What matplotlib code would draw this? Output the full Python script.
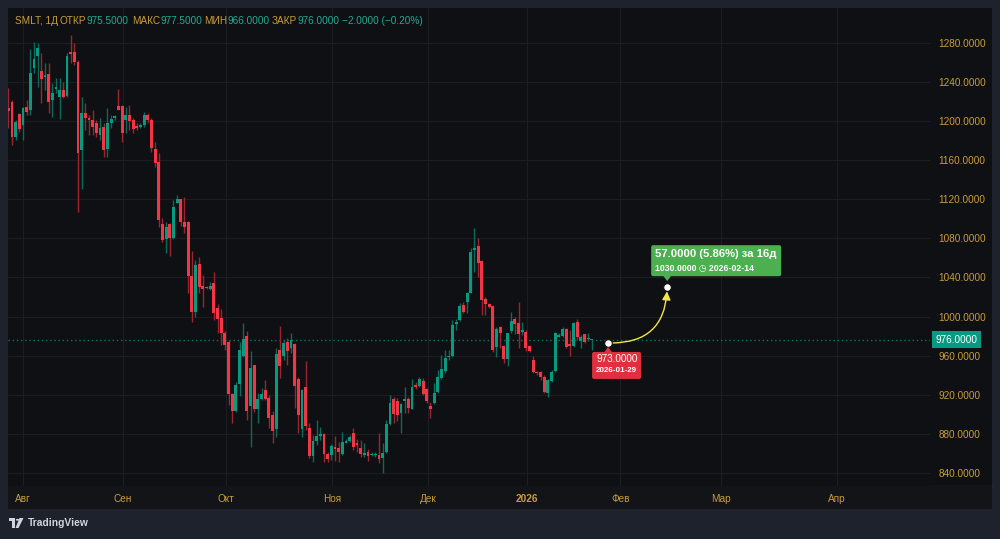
import matplotlib
matplotlib.use('Agg')
import matplotlib.pyplot as plt
from matplotlib.patches import Rectangle, FancyBboxPatch, Polygon, FancyArrowPatch, Circle
from matplotlib.transforms import IdentityTransform
import numpy as np

plt.rcParams['font.family'] = ['Liberation Sans', 'DejaVu Sans']

# daily candles, SMLT (Aug 2025 -> Jan 2026)
opens = [1212.9, 1219.7, 1183.9, 1206.8, 1195.8, 1213.9, 1211.2, 1253.8, 1266.7, 1251.1,
         1244.6, 1247.6, 1221.4, 1232.7, 1224.1, 1231.6, 1225.5, 1270.1, 1270.1, 1260.6,
         1170.3, 1207.8, 1203.3, 1201.0, 1198.2, 1185.6, 1194.1, 1171.0, 1197.6, 1202.7,
         1215.3, 1215.3, 1201.0, 1206.1, 1201.0, 1194.8, 1193.5, 1195.5, 1205.7, 1201.0,
         1171.0, 1158.4, 1094.6, 1078.9, 1094.6, 1080.0, 1116.4, 1120.2, 1097.0, 1096.3,
         1041.5, 1005.0, 1053.7, 1031.2, 1030.6, 1027.8, 1034.0, 1008.4, 998.2, 983.5,
         974.3, 920.8, 903.8, 931.0, 959.7, 980.1, 908.5, 950.5, 905.2, 915.4,
         924.9, 917.1, 899.3, 884.7, 965.8, 959.7, 974.3, 967.5, 971.6, 935.8,
         884.7, 927.6, 885.7, 857.4, 873.1, 878.2, 879.9, 859.5, 858.1, 866.9,
         865.9, 859.5, 871.0, 872.7, 880.6, 870.4, 865.6, 858.1, 861.8, 858.4,
         858.4, 858.1, 855.7, 861.8, 890.1, 915.3, 914.0, 901.0, 914.0, 915.3,
         905.8, 930.3, 929.0, 934.1, 925.6, 908.2, 911.9, 923.2, 936.8, 944.3,
         958.3, 959.7, 992.4, 996.5, 1011.8, 1015.2, 1024.4, 1068.0, 1072.1, 1056.8,
         1017.9, 1012.8, 1010.8, 969.2, 989.0, 969.9, 956.2, 985.6, 997.2, 993.7,
         983.8, 984.5, 969.9, 955.6, 943.6, 943.6, 938.5, 922.2, 934.4, 944.3,
         979.4, 980.1, 986.9, 971.9, 969.9, 994.1, 975.3, 981.8, 976.7, 975.5]
highs = [1233.3, 1221.4, 1201.0, 1207.8, 1214.6, 1221.4, 1273.2, 1281.0, 1279.3, 1269.1,
         1258.9, 1258.9, 1238.4, 1243.6, 1243.6, 1240.2, 1269.1, 1287.9, 1280.0, 1262.3,
         1224.8, 1218.0, 1206.1, 1211.2, 1201.0, 1202.7, 1197.6, 1212.9, 1206.1, 1206.1,
         1232.3, 1216.3, 1214.6, 1216.3, 1202.7, 1197.6, 1197.6, 1209.5, 1208.5, 1202.7,
         1178.8, 1166.9, 1100.4, 1097.0, 1095.3, 1119.2, 1124.3, 1120.2, 1122.6, 1098.0,
         1067.4, 1057.8, 1060.5, 1042.5, 1031.6, 1035.7, 1045.9, 1012.8, 1007.4, 985.6,
         976.0, 921.5, 933.4, 974.3, 993.7, 985.2, 965.1, 950.5, 921.5, 926.6,
         935.1, 919.8, 903.8, 968.2, 990.3, 976.0, 977.7, 982.8, 973.3, 938.5,
         925.6, 954.6, 890.8, 878.9, 894.2, 887.4, 880.6, 861.8, 869.7, 877.9,
         872.1, 882.3, 874.4, 878.9, 885.7, 874.4, 873.8, 870.4, 864.2, 861.8,
         861.8, 881.3, 870.4, 894.2, 919.8, 918.1, 916.4, 911.9, 928.3, 918.1,
         935.8, 933.4, 937.8, 937.5, 926.6, 912.9, 931.7, 945.3, 960.7, 965.8,
         965.8, 996.5, 997.1, 1013.5, 1015.2, 1025.4, 1069.7, 1090.2, 1080.0, 1057.8,
         1019.6, 1013.5, 1010.8, 989.0, 990.3, 970.9, 983.5, 1005.0, 999.9, 1015.2,
         994.8, 986.2, 970.9, 959.7, 944.3, 944.7, 940.2, 935.8, 945.3, 984.5,
         982.8, 989.0, 987.9, 986.2, 994.8, 997.8, 981.1, 982.1, 982.8, 977.5]
lows = [1192.4, 1175.4, 1180.5, 1189.0, 1180.5, 1206.1, 1206.1, 1248.7, 1235.0, 1218.0,
        1231.6, 1208.5, 1204.4, 1228.2, 1201.6, 1223.1, 1224.1, 1258.9, 1257.2, 1107.2,
        1130.1, 1190.7, 1185.6, 1185.6, 1183.9, 1180.5, 1163.5, 1163.5, 1192.4, 1201.0,
        1211.2, 1178.8, 1187.3, 1190.7, 1187.3, 1190.7, 1192.4, 1194.1, 1197.6, 1168.6,
        1153.2, 1091.9, 1076.6, 1064.6, 1061.9, 1079.0, 1115.8, 1092.6, 1085.8, 1024.4,
        994.8, 999.9, 1023.7, 1010.1, 1028.2, 1027.1, 996.5, 982.8, 970.9, 965.8,
        909.6, 891.5, 902.7, 918.8, 959.0, 894.2, 867.0, 902.7, 890.8, 914.7,
        914.7, 885.7, 870.4, 877.2, 936.8, 955.6, 950.5, 962.4, 906.2, 881.3,
        876.5, 884.0, 855.0, 851.6, 868.7, 873.8, 851.6, 851.6, 853.3, 852.6,
        851.6, 858.4, 870.4, 872.1, 863.5, 861.1, 856.7, 856.7, 852.6, 857.4,
        856.7, 849.9, 840.4, 860.8, 889.1, 891.5, 893.5, 881.3, 901.0, 901.7,
        905.1, 925.6, 927.6, 919.8, 911.3, 895.9, 910.6, 922.2, 935.8, 942.6,
        955.6, 959.0, 986.2, 995.8, 1003.3, 1003.3, 1023.7, 1045.9, 1040.8, 1001.6,
        1001.6, 1008.4, 964.1, 958.3, 967.5, 952.8, 949.4, 983.5, 982.1, 967.5,
        981.1, 965.1, 964.1, 941.9, 940.2, 935.1, 921.5, 918.1, 933.4, 943.6,
        978.7, 978.7, 967.5, 959.7, 968.5, 976.0, 967.5, 973.3, 975.3, 966.0]
closes = [1210.5, 1183.9, 1199.3, 1191.4, 1213.6, 1209.5, 1248.7, 1263.0, 1274.2, 1242.5,
          1247.0, 1219.7, 1228.9, 1235.0, 1231.6, 1224.8, 1266.4, 1268.4, 1260.6, 1167.6,
          1207.8, 1202.7, 1201.0, 1194.1, 1187.3, 1192.4, 1170.3, 1197.6, 1201.6, 1205.0,
          1211.2, 1187.3, 1206.1, 1200.3, 1191.8, 1193.1, 1195.5, 1206.1, 1201.0, 1172.0,
          1156.7, 1098.7, 1078.3, 1091.2, 1080.0, 1112.3, 1120.2, 1097.0, 1091.9, 1041.5,
          1005.0, 1052.7, 1030.6, 1027.8, 1028.9, 1031.2, 1003.3, 997.2, 982.8, 970.9,
          920.8, 903.8, 930.0, 965.8, 976.7, 903.8, 947.7, 905.2, 915.4, 920.5,
          915.4, 895.9, 883.0, 961.4, 949.4, 973.3, 965.1, 976.0, 929.0, 899.3,
          924.9, 888.1, 857.4, 873.1, 877.9, 879.6, 859.5, 854.0, 868.0, 864.2,
          861.1, 871.4, 872.7, 876.5, 866.3, 869.0, 859.5, 860.1, 857.7, 859.5,
          859.8, 854.7, 860.8, 890.1, 911.3, 900.3, 899.3, 910.2, 915.3, 906.1,
          928.3, 928.3, 936.1, 920.8, 914.0, 905.8, 921.5, 937.8, 946.0, 957.3,
          959.7, 991.3, 994.8, 1010.8, 1005.0, 1023.7, 1066.3, 1069.7, 1055.1, 1016.9,
          1012.8, 1010.1, 965.8, 986.9, 983.5, 956.2, 982.8, 995.8, 992.4, 982.1,
          985.9, 967.5, 965.1, 943.6, 941.9, 937.8, 923.2, 935.1, 943.6, 983.5,
          981.1, 986.9, 969.2, 969.9, 993.1, 978.7, 979.4, 974.3, 978.0, 976.0]

# time axis (bar-slot positions of month starts)
month_pos = [4.0, 31.3, 59.3, 88.2, 114.4, 141.3, 166.7, 194.2, 225.8]
month_labels = ['Авг', 'Сен', 'Окт', 'Ноя', 'Дек', '2026', 'Фев', 'Мар', 'Апр']
price_ticks = [840, 880, 920, 960, 1000, 1040, 1080, 1120, 1160, 1200, 1240, 1280]

# forecast drawing
start_pos, start_price, start_date = 163.4, 973.0, '2026-01-29'
end_pos, end_price, end_date = 179.5, 1030.0, '2026-02-14'
delta, delta_pct, delta_days = 57.0, 5.86, 16

header_labels = ['ОТКР', 'МАКС', 'МИН', 'ЗАКР']
header_values = [975.5, 977.5, 966.0, 976.0]
day_change, day_change_pct = -2.0, -0.20
last_price = 976.0

UP, DOWN = '#089981', '#f23645'
UP_WICK, DOWN_WICK = '#0b6a5a', '#9a2531'
GOLD, TEAL = '#c99d3a', '#22ab94'
PANE, OUTER, STRIP = '#0f1013', '#1e222d', '#131418'
FS = 7.2

W, H = 1000, 539
fig = plt.figure(figsize=(W / 100, H / 100), dpi=100, facecolor=OUTER)


def fx(x):
    return x / W


def fy(y):
    return 1 - y / H


# pane + time-axis strip backgrounds (behind the axes)
fig.patches.append(Rectangle((fx(8), fy(509)), 984 / W, 501 / H, transform=fig.transFigure,
                             facecolor=PANE, edgecolor='none', zorder=-2))
fig.patches.append(Rectangle((fx(8), fy(509)), 984 / W, 23 / H, transform=fig.transFigure,
                             facecolor=STRIP, edgecolor='none', zorder=-1))
fig.add_artist(plt.Line2D([fx(8), fx(992)], [fy(486), fy(486)], transform=fig.transFigure,
                          color='#2a2e39', lw=1, zorder=-1))

ax = fig.add_axes([fx(8), fy(486), 922 / W, 478 / H])
ax.set_facecolor(PANE)
for s in ax.spines.values():
    s.set_visible(False)
ax.set_xlim(-0.08, 251.1)
ax.set_ylim(826.7, 1315.5)

ax.set_yticks(price_ticks, [f'{p:.4f}' for p in price_ticks])
ax.yaxis.tick_right()
ax.tick_params(axis='y', length=0, pad=6, labelcolor=GOLD, labelsize=FS)
ax.set_xticks(month_pos, month_labels)
ax.tick_params(axis='x', length=0, pad=6, labelcolor=GOLD, labelsize=FS)
ax.get_xticklabels()[month_labels.index('2026')].set_fontweight('bold')
ax.grid(True, color='#1c1e24', lw=0.8)
ax.set_axisbelow(True)

o = np.array(opens)
c = np.array(closes)
x = np.arange(len(o))
up = c >= o
ax.vlines(x, lows, highs, colors=np.where(up, UP_WICK, DOWN_WICK), lw=1, zorder=2)
ax.bar(x, np.maximum(np.abs(c - o), 1.2), bottom=np.minimum(o, c), width=0.78,
       color=np.where(up, UP, DOWN), lw=0, zorder=3)

# last price line and label
ax.axhline(last_price, color=UP, ls=(0, (1, 2)), lw=1, alpha=0.75, zorder=1)
ax.annotate(f'{last_price:.4f}', xy=(1, last_price), xycoords=('axes fraction', 'data'),
            xytext=(5, 0), textcoords='offset pixels', ha='left', va='center', color='white',
            fontsize=FS, annotation_clip=False,
            bbox=dict(boxstyle='square,pad=0.35', fc=UP, ec='none'))

# forecast arrow
ax.add_patch(FancyArrowPatch((start_pos, start_price), (end_pos, end_price),
                             connectionstyle='arc3,rad=0.5',
                             arrowstyle='-|>,head_length=5,head_width=2.5',
                             color='#f2e54b', lw=1, shrinkA=3, shrinkB=3, zorder=5))
ax.plot([start_pos, end_pos], [start_price, end_price], ls='none', marker='o', ms=5.5,
        mfc='white', mec=PANE, mew=0.8, zorder=6)

ident = IdentityTransform()
# target box (green)
px, py = ax.transData.transform((end_pos, end_price))
fig.add_artist(FancyBboxPatch((px - 16, py + 11), 130, 31, boxstyle='round,pad=0,rounding_size=2',
                              transform=ident, fc='#4caf50', ec='none'))
fig.add_artist(Polygon([(px - 4, py + 11.5), (px + 4, py + 11.5), (px, py + 6)], closed=True,
                       transform=ident, fc='#4caf50', ec='none'))
fig.text(px - 12, py + 33, f'{delta:.4f} ({delta_pct:.2f}%) за {delta_days}д', transform=ident,
         color='white', fontsize=8.1, fontweight='bold', va='center', ha='left')
fig.text(px - 12, py + 18.5, f'{end_price:.4f} \u25F7 {end_date}', transform=ident,
         color='white', fontsize=6.3, fontweight='bold', va='center', ha='left')

# origin box (red)
qx, qy = ax.transData.transform((start_pos, start_price))
fig.add_artist(FancyBboxPatch((qx - 16, qy - 36), 49, 27, boxstyle='round,pad=0,rounding_size=2',
                              transform=ident, fc='#e0303e', ec='none'))
fig.add_artist(Polygon([(qx - 4, qy - 9.5), (qx + 4, qy - 9.5), (qx, qy - 4)], closed=True,
                       transform=ident, fc='#e0303e', ec='none'))
fig.text(qx - 12, qy - 16.5, f'{start_price:.4f}', transform=ident, color='white',
         fontsize=7.1, va='center', ha='left')
fig.text(qx - 12, qy - 28, start_date, transform=ident, color='white',
         fontsize=5.8, fontweight='bold', va='center', ha='left')

# header line
renderer = fig.canvas.get_renderer()
hy = fy(21.5)
fig.text(fx(15), hy, 'SMLT, 1Д', color=GOLD, fontsize=FS, va='center')
group_x = [60, 132, 204, 272]
for gx, lab, val in zip(group_x, header_labels, header_values):
    t = fig.text(fx(gx), hy, lab, color=GOLD, fontsize=FS, va='center')
    bb = t.get_window_extent(renderer)
    fig.text(bb.x1 / W, hy, f'{val:.4f}', color=TEAL, fontsize=FS, va='center')
fig.text(fx(342), hy, f'\u2212{abs(day_change):.4f} (\u2212{abs(day_change_pct):.2f}%)',
         color=TEAL, fontsize=FS, va='center')

# TradingView mark
logo = '#d1d4dc'
fig.patches.append(Rectangle((fx(9), fy(521)), 6 / W, 3 / H, transform=fig.transFigure, fc=logo, ec='none'))
fig.patches.append(Rectangle((fx(12), fy(528)), 3 / W, 10 / H, transform=fig.transFigure, fc=logo, ec='none'))
fig.patches.append(Circle((fx(17.5), fy(519.8)), 1.7 / W, transform=fig.transFigure, fc=logo, ec='none'))
fig.patches.append(Polygon([(fx(19.5), fy(518)), (fx(23.5), fy(518)), (fx(18.5), fy(528)), (fx(15.5), fy(528))],
                           closed=True, transform=fig.transFigure, fc=logo, ec='none'))
fig.text(fx(28), fy(523), 'TradingView', color=logo, fontsize=7.4, fontweight='bold', va='center')

fig.savefig('out.png', dpi=100, facecolor=OUTER)
